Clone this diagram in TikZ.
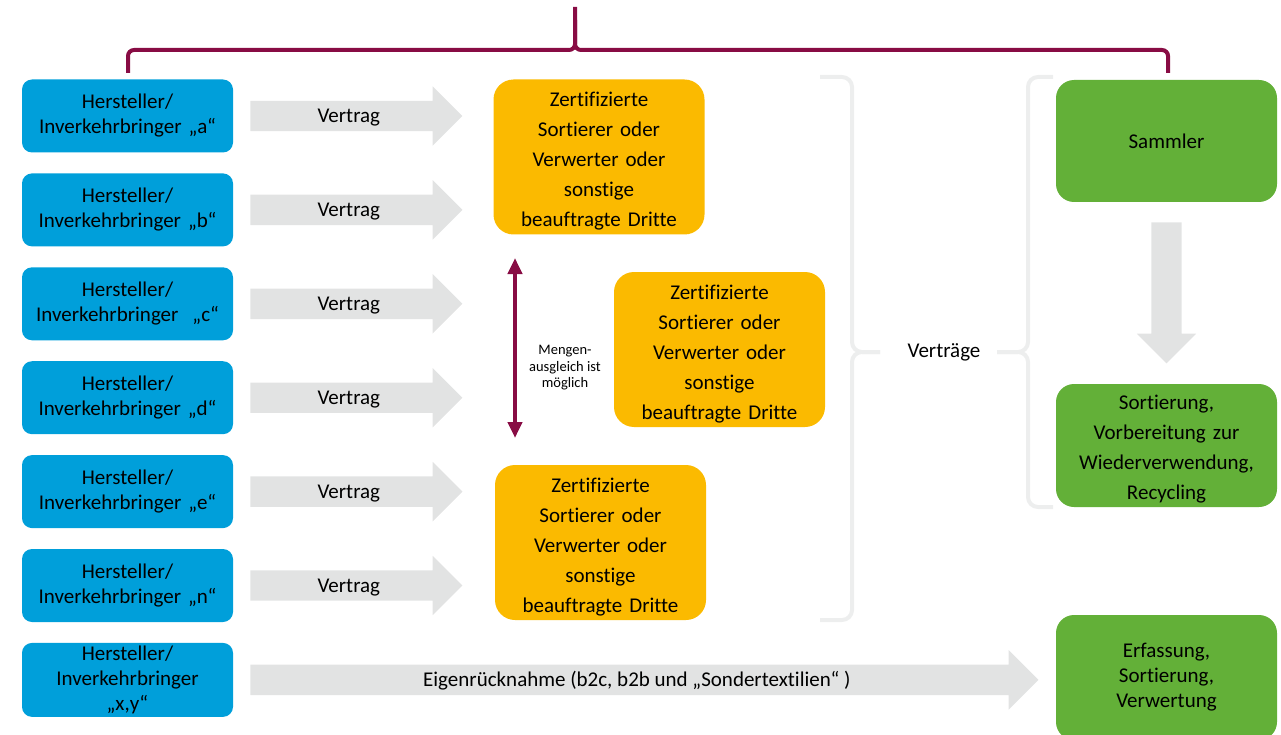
\documentclass[tikz,border=0pt]{standalone}
\usepackage{fontspec}
\setmainfont{Carlito}[Ligatures={NoCommon}]
\usetikzlibrary{arrows.meta,positioning,shapes.arrows}

\definecolor{hstblau}{RGB}{0,159,218}
\definecolor{zertgelb}{RGB}{251,186,0}
\definecolor{zielgruen}{RGB}{99,176,56}
\definecolor{pfeilgrau}{RGB}{226,227,227}
\definecolor{klammergrau}{RGB}{237,238,238}
\definecolor{mgrot}{RGB}{136,12,68}

\begin{document}
\begin{tikzpicture}[x=1pt,y=1pt,yscale=-1,xscale=1,
  hst/.style = {fill=hstblau, rounded corners=10pt,
  minimum width=211pt, minimum height=73pt, text width=205pt,
  inner sep=3pt, align=center, font=\fontsize{21}{25}\selectfont},
  zert/.style = {fill=zertgelb, rounded corners=20pt,
  minimum width=211pt, minimum height=155pt, text width=205pt,
  inner sep=3pt, align=center, font=\fontsize{21}{30}\selectfont,
  execute at begin node={\rule{0pt}{23pt}}},
  ziel/.style = {fill=zielgruen, rounded corners=18pt,
  minimum width=221pt, minimum height=123pt, text width=212pt,
  inner sep=3pt, align=center, font=\fontsize{21}{30}\selectfont},
  pfeil/.style = {single arrow, fill=pfeilgrau,
  single arrow head extend=14.5pt,
  text height=14.5pt, text depth=1.5pt, inner xsep=2pt, inner ysep=7pt,
  font=\fontsize{21}{25}\selectfont},
  klammer/.style = {draw=mgrot, line width=4pt, rounded corners=6pt},
  grauklammer/.style = {draw=klammergrau, line width=4pt, rounded corners=10pt},
  mgpfeil/.style = {draw=mgrot, line width=4pt},
  node distance=20.5pt,
  >={Triangle[width=14pt,length=16pt]}]

  \useasboundingbox (0,0) rectangle (1281,735);

  % Hersteller
  \node[hst] (ha) at (127.5,116) {Hersteller/\\Inverkehrbringer „a“};
  \node[hst] (hb) [below=of ha] {Hersteller/\\Inverkehrbringer „b“};
  \node[hst] (hc) [below=of hb] {Hersteller/\\Inverkehrbringer \ „c“};
  \node[hst] (hd) [below=of hc] {Hersteller/\\Inverkehrbringer „d“};
  \node[hst] (he) [below=of hd] {Hersteller/\\Inverkehrbringer „e“};
  \node[hst] (hn) [below=of he] {Hersteller/\\Inverkehrbringer „n“};
  \node[hst] (hxy) [below=of hn] {Hersteller/\\Inverkehrbringer\\„x,y“};

  % Vertraege
  \node[pfeil, minimum height=212pt, right=17pt of ha] (va) {Vertrag};
  \node[pfeil, minimum height=212pt, right=17pt of hb] (vb) {Vertrag};
  \node[pfeil, minimum height=212pt, right=17pt of hc] (vc) {Vertrag};
  \node[pfeil, minimum height=212pt, right=17pt of hd] (vd) {Vertrag};
  \node[pfeil, minimum height=212pt, right=17pt of he] (ve) {Vertrag};
  \node[pfeil, minimum height=212pt, right=17pt of hn] (vn) {Vertrag};
  \node[pfeil, minimum height=788pt, right=17pt of hxy] (eig)
    {Eigenrücknahme (b2c, b2b und „Sondertextilien“ )};

  % Zertifizierte
  \node[zert] (z1) at (599,157) {Zertifizierte\\Sortierer oder\\Verwerter oder\\sonstige\\beauftragte Dritte};
  \node[zert] (z2) at (719.5,349.5) {Zertifizierte\\Sortierer oder\\Verwerter oder\\sonstige\\beauftragte Dritte};
  \node[zert] (z3) at (600.5,542.5) {Zertifizierte\\Sortierer oder\\Verwerter oder\\sonstige\\beauftragte Dritte};

  \coordinate (mo) at (515,258);
  \coordinate (mu) at (515,438);
  \draw[mgpfeil, <->] (mo) -- (mu);
  \node[align=center, font=\fontsize{14.5}{16.5}\selectfont] (mg) at (565,368)
    {Mengen-\\ausgleich ist\\möglich};

  % Ziele
  \node[ziel, minimum height=122pt] (sam) at (1166.5,141) {Sammler};
  \node[ziel, execute at begin node={\rule{0pt}{21pt}}] (sort) at (1166.5,445.5)
    {Sortierung,\\Vorbereitung zur\\Wiederverwendung,\\Recycling};
  \node[ziel, minimum height=125pt, font=\fontsize{21}{25}\selectfont] (erf) at (1166.5,677.5)
    {Erfassung,\\Sortierung,\\Verwertung};
  \node[pfeil, shape border rotate=270, minimum height=141pt, inner xsep=15pt,
    below=20pt of sam] (runter) {};

  % Klammern
  \draw[grauklammer] (820,77) -- (852,77) -- (852,352) -- (880,352);
  \draw[grauklammer] (820,620) -- (852,620) -- (852,352) -- (880,352);
  \draw[grauklammer] (1053,77) -- (1028,77) -- (1028,352) -- (997,352);
  \draw[grauklammer] (1053,507) -- (1028,507) -- (1028,352) -- (997,352);
  \node[font=\fontsize{21}{25}\selectfont] (vtr) at (944,352) {Verträge};

  \draw[klammer] (128,73) -- (128,50) -- (575,50) -- (575,7);
  \draw[klammer] (575,20) -- (575,50) -- (1168,50) -- (1168,73);
\end{tikzpicture}
\end{document}
